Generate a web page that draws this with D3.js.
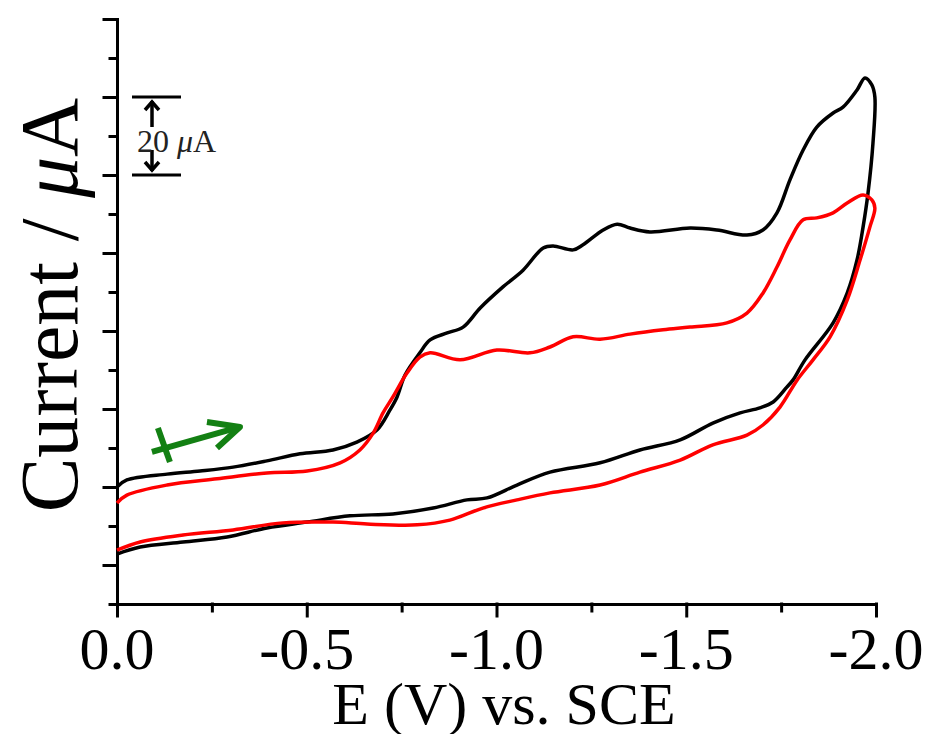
<!DOCTYPE html>
<html>
<head>
<meta charset="utf-8">
<script src="https://cdn.jsdelivr.net/npm/d3@7"></script>
<style>
  body { margin: 0; background: #fff; }
  svg { display: block; }
  text { font-family: "Liberation Serif", "Times New Roman", serif; }
</style>
</head>
<body>
<script>
// CV data, E in V vs SCE, I in µA (cathodic up)
const blackE = [0, -0.026, -0.132, -0.219, -0.306, -0.395, -0.482, -0.569, -0.632, -0.685, -0.719, -0.738, -0.759, -0.798, -0.825, -0.870, -0.912, -0.957, -1.017, -1.070, -1.123, -1.149, -1.202, -1.228, -1.281, -1.318, -1.352, -1.404, -1.510, -1.581, -1.660, -1.702, -1.739, -1.773, -1.808, -1.844, -1.887, -1.913, -1.950, -1.971, -1.989, -1.997,
  -1.992, -1.979, -1.966, -1.950, -1.924, -1.887, -1.813, -1.781, -1.765, -1.729, -1.694, -1.642, -1.570, -1.484, -1.378, -1.273, -1.141, -1.054, -0.975, -0.922, -0.833, -0.727, -0.614, -0.501, -0.395, -0.290, -0.174, -0.061, 0]
const blackI = [20.0, 21.8, 23.3, 24.1, 25.1, 26.7, 28.5, 29.5, 31.5, 34.6, 39.7, 43.1, 48.7, 54.4, 57.7, 59.5, 61.0, 65.9, 71.3, 75.6, 81.3, 81.8, 80.8, 82.1, 85.9, 87.4, 86.4, 85.4, 86.4, 85.9, 84.6, 85.9, 90.3, 98.7, 106.4, 112.3, 115.9, 117.4, 121.8, 124.9, 123.1, 120.0,
  108.2, 95.4, 86.7, 78.2, 69.7, 62.1, 52.6, 47.4, 45.6, 41.8, 40.3, 39.0, 36.4, 32.1, 29.5, 26.2, 23.8, 20.5, 17.2, 16.7, 14.6, 13.1, 12.6, 11.0, 9.5, 7.2, 5.9, 4.6, 2.8]

const redE = [0, -0.026, -0.132, -0.264, -0.395, -0.501, -0.588, -0.640, -0.675, -0.701, -0.727, -0.764, -0.798, -0.825, -0.904, -1.001, -1.088, -1.141, -1.202, -1.273, -1.352, -1.439, -1.510, -1.607, -1.660, -1.702, -1.739, -1.773, -1.808, -1.844, -1.887, -1.924, -1.966, -1.989, -1.997,
  -1.984, -1.958, -1.924, -1.879, -1.834, -1.792, -1.747, -1.702, -1.660, -1.570, -1.484, -1.378, -1.273, -1.141, -1.054, -0.964, -0.877, -0.791, -0.659, -0.569, -0.437, -0.306, -0.174, -0.061, 0]
const redI = [15.9, 17.9, 20.5, 22.1, 23.6, 24.1, 26.2, 29.5, 33.8, 39.0, 43.1, 49.2, 53.3, 54.4, 52.6, 55.1, 54.4, 55.9, 58.5, 57.9, 59.2, 60.3, 61.0, 62.1, 64.6, 69.7, 76.4, 83.3, 88.5, 89.0, 90.3, 92.8, 94.9, 93.6, 91.5,
  86.7, 78.2, 67.9, 58.5, 52.6, 47.4, 40.5, 35.9, 33.3, 30.8, 26.9, 23.8, 20.5, 18.5, 16.7, 14.6, 11.5, 10.3, 10.5, 11.0, 10.8, 9.0, 7.7, 5.9, 3.8]

const xMajor = [0, -0.5, -1.0, -1.5, -2.0]
const xMinor = [-0.25, -0.75, -1.25, -1.75]
const xLabels = ["0.0", "-0.5", "-1.0", "-1.5", "-2.0"]
const yMajor = [0, 20, 40, 60, 80, 100, 120, 140]
const yMinor = [-10, 10, 30, 50, 70, 90, 110, 130]
const scaleBar = [100, 120]            // 20 µA
const scanArrow = [[-0.092, 29.0], [-0.324, 35.4]]   // scan direction

const width = 930, height = 734

const x = d3.scaleLinear().domain([0, -2]).range([117, 876])
const y = d3.scaleLinear().domain([-10, 140]).range([604, 19])

const svg = d3.select("body").append("svg")
    .attr("width", width)
    .attr("height", height)

// axes
svg.append("g")
    .attr("transform", `translate(0, ${y(-10)})`)
    .call(d3.axisBottom(x).tickValues(xMajor).tickSize(12).tickSizeOuter(0).tickFormat(""))
svg.append("g")
    .attr("transform", `translate(0, ${y(-10)})`)
    .call(d3.axisBottom(x).tickValues(xMinor).tickSize(7).tickSizeOuter(0).tickFormat(""))
    .select(".domain").remove()

svg.append("g")
    .attr("transform", `translate(${x(0)}, 0)`)
    .call(d3.axisLeft(y).tickValues(yMajor).tickSize(13).tickSizeOuter(0).tickFormat(""))
svg.append("g")
    .attr("transform", `translate(${x(0)}, 0)`)
    .call(d3.axisLeft(y).tickValues(yMinor).tickSize(7).tickSizeOuter(0).tickFormat(""))
    .select(".domain").remove()

svg.selectAll(".domain, .tick line")
    .attr("stroke", "#000")
    .attr("stroke-width", 3)
    .attr("stroke-linecap", "square")

// x tick labels
svg.append("g")
    .selectAll("text")
    .data(xMajor)
    .enter()
    .append("text")
        .attr("x", (d) => x(d))
        .attr("y", 669)
        .attr("text-anchor", "middle")
        .attr("font-size", 60)
        .text((d, i) => xLabels[i])

svg.append("text")
    .attr("x", 504)
    .attr("y", 724)
    .attr("text-anchor", "middle")
    .attr("font-size", 60)
    .text("E (V) vs. SCE")

const yLab = svg.append("text")
    .attr("transform", "translate(77, 305) rotate(-90)")
    .attr("text-anchor", "middle")
    .attr("font-size", 82)
yLab.append("tspan").text("Current / ")
yLab.append("tspan").attr("font-style", "italic").text("\u03bc")
yLab.append("tspan").text("A")

// curves
const line = d3.line()
    .x((d) => x(d[0]))
    .y((d) => y(d[1]))
    .curve(d3.curveCatmullRom.alpha(0.5))

svg.append("path")
    .datum(blackE.map((e, i) => [e, blackI[i]]))
    .attr("d", line)
    .attr("fill", "none")
    .attr("stroke", "#000")
    .attr("stroke-width", 3.5)
    .attr("stroke-linejoin", "round")

svg.append("path")
    .datum(redE.map((e, i) => [e, redI[i]]))
    .attr("d", line)
    .attr("fill", "none")
    .attr("stroke", "#ff0000")
    .attr("stroke-width", 3.5)
    .attr("stroke-linejoin", "round")

// 20 µA scale bar
const sb = svg.append("g").attr("stroke", "#000").attr("stroke-width", 3.5).attr("fill", "none")
const bx = 152
sb.selectAll("line.bar")
    .data(scaleBar)
    .enter()
    .append("line")
        .attr("x1", bx - 20).attr("x2", bx + 29)
        .attr("y1", (d) => y(d)).attr("y2", (d) => y(d))
        .attr("stroke-width", 3)
sb.append("line").attr("x1", bx).attr("x2", bx).attr("y1", y(scaleBar[1]) + 4).attr("y2", y(scaleBar[1]) + 30)
sb.append("polyline").attr("points", `${bx - 7},${y(scaleBar[1]) + 13} ${bx},${y(scaleBar[1]) + 5} ${bx + 7},${y(scaleBar[1]) + 13}`)
sb.append("line").attr("x1", bx).attr("x2", bx).attr("y1", y(scaleBar[0]) - 25).attr("y2", y(scaleBar[0]) - 4)
sb.append("polyline").attr("points", `${bx - 7},${y(scaleBar[0]) - 13} ${bx},${y(scaleBar[0]) - 5} ${bx + 7},${y(scaleBar[0]) - 13}`)

const sbt = svg.append("text")
    .attr("x", 137)
    .attr("y", 152)
    .attr("font-size", 32)
    .attr("fill", "#222")
sbt.append("tspan").text("20 ")
sbt.append("tspan").attr("font-style", "italic").text("\u03bc")
sbt.append("tspan").text("A")

// scan direction arrow
const a0 = [x(scanArrow[0][0]), y(scanArrow[0][1])]
const a1 = [x(scanArrow[1][0]), y(scanArrow[1][1])]
const green = svg.append("g")
    .attr("stroke", "#138013")
    .attr("stroke-width", 6)
    .attr("fill", "none")
    .attr("stroke-linejoin", "round")
green.append("line").attr("x1", a0[0]).attr("y1", a0[1]).attr("x2", a1[0]).attr("y2", a1[1])
green.append("polyline").attr("points", `${a1[0] - 33},${a1[1] - 5} ${a1[0]},${a1[1]} ${a1[0] - 23},${a1[1] + 21}`)
green.append("line").attr("x1", a0[0] + 6).attr("y1", a0[1] - 24).attr("x2", a0[0] + 18).attr("y2", a0[1] + 10)
</script>
</body>
</html>
